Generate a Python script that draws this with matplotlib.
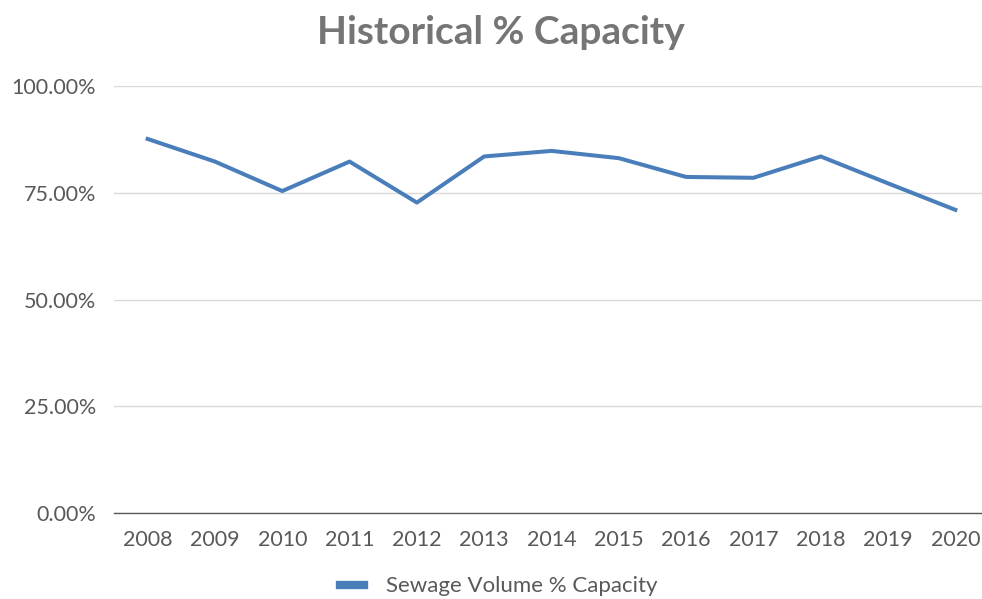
import numpy as np
import matplotlib.pyplot as plt
from matplotlib.ticker import FuncFormatter

plt.rcParams['font.family'] = ['Lato', 'DejaVu Sans']

years = ['2008', '2009', '2010', '2011', '2012', '2013', '2014',
         '2015', '2016', '2017', '2018', '2019', '2020']
capacity = [0.876, 0.823, 0.754, 0.823, 0.727, 0.835, 0.848,
            0.831, 0.787, 0.785, 0.835, 0.772, 0.710]

line_color = '#4a7ebb'
text_color = '#595959'

fig = plt.figure(figsize=(9.82, 5.99), dpi=100)
ax = fig.add_axes([114 / 982, 86 / 599, 875 / 982, 427 / 599])

x = np.arange(len(years))
ax.plot(x, capacity, color=line_color, linewidth=2.9,
        solid_joinstyle='round', label='Sewage Volume % Capacity')

ax.set_xlim(-0.5, len(years) - 0.5)
ax.set_ylim(0, 1)
ax.set_yticks([0, 0.25, 0.5, 0.75, 1.0])
ax.yaxis.set_major_formatter(FuncFormatter(lambda v, p: '{:.2f}%'.format(v * 100)))
ax.set_xticks(x)
ax.set_xticklabels(years)

ax.grid(axis='y', color='#d9d9d9', linewidth=1)
ax.set_axisbelow(True)
for s in ['top', 'right', 'left']:
    ax.spines[s].set_visible(False)
ax.spines['bottom'].set_color('#595959')
ax.spines['bottom'].set_linewidth(1)

ax.tick_params(axis='y', length=0, pad=13, labelsize=15.5, labelcolor=text_color)
ax.tick_params(axis='x', length=0, pad=12, labelsize=15.5, labelcolor=text_color)

fig.suptitle('Historical % Capacity', x=0.510, y=0.975, fontsize=28,
             fontweight='bold', color='#757575', va='top')

fig.legend(loc='center', bbox_to_anchor=(0.508, 0.021), frameon=False,
           fontsize=16, labelcolor=text_color, handlelength=1.1,
           handletextpad=1.0)
leg = fig.legends[0]
for h in leg.legend_handles:
    h.set_linewidth(6)

fig.savefig('out.png', dpi=100)
